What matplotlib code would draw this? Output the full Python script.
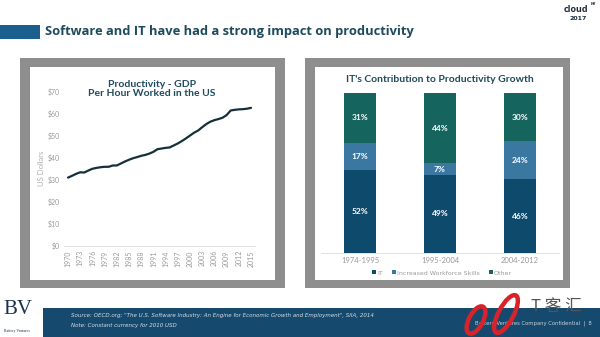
import matplotlib.pyplot as plt
import matplotlib.patches as mpatches
from matplotlib.transforms import IdentityTransform
import numpy as np

# productivity, GDP per hour worked (US$, 2010 constant)
years = list(range(1970, 2016))
gdp_hour = [31.1, 31.9, 32.8, 33.5, 33.4, 34.3, 35.1, 35.5, 35.8, 36.0,
            36.0, 36.6, 36.6, 37.5, 38.4, 39.2, 39.9, 40.4, 41.0, 41.4,
            42.0, 42.8, 44.0, 44.3, 44.6, 44.8, 45.7, 46.6, 47.7, 48.9,
            50.2, 51.5, 52.5, 54.0, 55.4, 56.5, 57.2, 57.7, 58.3, 59.5,
            61.6, 61.9, 62.1, 62.2, 62.4, 62.8]
year_ticks = list(range(1970, 2016, 3))
dollar_ticks = [0, 10, 20, 30, 40, 50, 60, 70]

# contribution to productivity growth (%)
periods = ["1974-1995", "1995-2004", "2004-2012"]
it_share = [52, 49, 46]
skills_share = [17, 7, 24]
other_share = [31, 44, 30]
series_names = ["IT", "Increased Workforce Skills", "Other"]

W, H = 600, 337
navy = "#0e4a6b"
mid_blue = "#3a78a2"
teal = "#16645e"
title_col = "#1d4a5c"
gray_txt = "#9a9a9a"

fig = plt.figure(figsize=(6, 3.37), dpi=100)
fig.patch.set_facecolor("white")


def px_rect(x0, y0, x1, y1):
    # pixel box (top-left origin) -> figure fraction
    return [x0 / W, 1 - y1 / H, (x1 - x0) / W, (y1 - y0) / H]


def add_box(x0, y0, x1, y1, color, z=0):
    r = mpatches.Rectangle((x0 / W, 1 - y1 / H), (x1 - x0) / W, (y1 - y0) / H,
                           transform=fig.transFigure, facecolor=color,
                           edgecolor="none", zorder=z)
    fig.patches.append(r)


# header
add_box(0, 25, 40, 39, "#1a5f8e")
fig.text(45 / W, 1 - 32 / H, "Software and IT have had a strong impact on productivity",
         fontsize=9.3, fontweight="bold", color=title_col, family="Open Sans",
         va="center", ha="left")
fig.text(576 / W, 1 - 9 / H, "cloud", fontsize=6.5, fontweight="bold", color="#1b2a3a",
         ha="center", va="center", family="Open Sans")
fig.text(593 / W, 1 - 4 / H, "NY", fontsize=2.5, fontweight="bold", color="#1b2a3a",
         ha="center", va="center")
fig.text(578 / W, 1 - 18 / H, "2017", fontsize=4.5, fontweight="bold", color="#1b2a3a",
         ha="center", va="center")

# panel frames
add_box(20, 58, 285, 288, "#8e8e8e")
add_box(30, 67, 275, 280, "white", 1)
add_box(305, 58, 570, 288, "#8e8e8e")
add_box(315, 67, 563, 280, "white", 1)

# footer
add_box(43, 308, 600, 337, "#154a6e")
fig.text(3 / W, 1 - 309 / H, "BV", fontsize=15, color="#1c3350", family="Liberation Serif",
         ha="left", va="center")
fig.text(4 / W, 1 - 331 / H, "Battery Ventures", fontsize=2.8, color="#1c3350",
         family="Liberation Serif", ha="left", va="center")
fig.text(71 / W, 1 - 315 / H,
         'Source: OECD.org; "The U.S. Software Industry: An Engine for Economic Growth and Employment", SIIA, 2014',
         fontsize=4, style="italic", color="#d8dde4", ha="left", va="center")
fig.text(71 / W, 1 - 326 / H, "Note: Constant currency for 2010 USD",
         fontsize=4, style="italic", color="#d8dde4", ha="left", va="center")
fig.text(592 / W, 1 - 323 / H, "Battery Ventures Company Confidential  |  8",
         fontsize=3.8, color="#c8ced6", ha="right", va="center")

# watermark: red ribbon loops + text (pixel coordinates, y from bottom)
for cx, cy, ww, hh in [(476, 320, 14, 30), (506, 314, 15, 42)]:
    e = mpatches.Ellipse((cx, H - cy), ww, hh, angle=-28,
                         transform=IdentityTransform(), facecolor="none",
                         edgecolor="#d8232a", lw=3.2, zorder=6)
    fig.patches.append(e)
fig.text(531 / W, 1 - 306 / H, "T 客 汇", fontsize=12,
         family=["Noto Sans CJK SC", "DejaVu Sans"], color="#555555",
         ha="left", va="center", zorder=5)

# left chart: line
ax1 = fig.add_axes(px_rect(64, 92, 255, 246))
ax1.set_zorder(2)
ax1.plot(years, gdp_hour, color="#14303b", lw=1.6, solid_capstyle="round")
ax1.set_xlim(1969.02, 2015.98)
ax1.set_ylim(0, 70)
ax1.set_xticks(year_ticks)
ax1.set_xticklabels([str(y) for y in year_ticks], rotation=90)
ax1.set_yticks(dollar_ticks)
ax1.set_yticklabels(["$" + str(v) for v in dollar_ticks])
ax1.tick_params(axis="both", length=0, labelsize=5, labelcolor=gray_txt, pad=3)
for s in ["top", "right", "left"]:
    ax1.spines[s].set_visible(False)
ax1.spines["bottom"].set_color("#dcdcdc")
ax1.spines["bottom"].set_linewidth(0.6)
ax1.patch.set_alpha(0)
for lbl in ax1.get_xticklabels() + ax1.get_yticklabels():
    lbl.set_family("Lato")
fig.text(41 / W, 1 - 168 / H, "US Dollars", fontsize=5.5, color="#b0b0b0",
         family="Lato", rotation=90, ha="center", va="center", zorder=3)
fig.text(152 / W, 1 - 89 / H, "Productivity - GDP\nPer Hour Worked in the US",
         fontsize=7.5, fontweight="bold", color=title_col, family="Lato",
         ha="center", va="center", linespacing=1.1, zorder=3)

# right chart: stacked bars
ax2 = fig.add_axes(px_rect(321, 93, 559, 253))
ax2.set_zorder(2)
x = np.arange(len(periods))
bw = 0.4
b1 = ax2.bar(x, it_share, bw, color=navy, label=series_names[0])
b2 = ax2.bar(x, skills_share, bw, bottom=it_share, color=mid_blue, label=series_names[1])
bottom3 = [a + b for a, b in zip(it_share, skills_share)]
b3 = ax2.bar(x, other_share, bw, bottom=bottom3, color=teal, label=series_names[2])
for vals, bots in [(it_share, [0, 0, 0]), (skills_share, it_share),
                   (other_share, bottom3)]:
    for xi, v, b in zip(x, vals, bots):
        ax2.text(xi, b + v / 2, f"{v}%", ha="center", va="center", color="white",
                 fontsize=6, fontweight="bold", family="Lato")
ax2.set_xlim(-0.4875, 2.4875)
ax2.set_ylim(0, 100)
ax2.set_xticks(x)
ax2.set_xticklabels(periods, family="Lato")
ax2.set_yticks([])
ax2.tick_params(axis="x", length=0, labelsize=5.5, labelcolor=gray_txt, pad=3)
for s in ["top", "right", "left"]:
    ax2.spines[s].set_visible(False)
ax2.spines["bottom"].set_color("#dcdcdc")
ax2.spines["bottom"].set_linewidth(0.6)
ax2.patch.set_alpha(0)
leg = ax2.legend(loc="center", bbox_to_anchor=(442 / W, 1 - 273 / H),
                 bbox_transform=fig.transFigure, ncol=3, frameon=False,
                 fontsize=4.5, handlelength=0.6, handleheight=0.6,
                 handletextpad=0.2, columnspacing=1.5, labelcolor=gray_txt)
fig.text(440 / W, 1 - 79 / H, "IT's Contribution to Productivity Growth",
         fontsize=7.5, fontweight="bold", color=title_col, family="Lato",
         ha="center", va="center", zorder=3)

plt.savefig("out.png", dpi=100)
